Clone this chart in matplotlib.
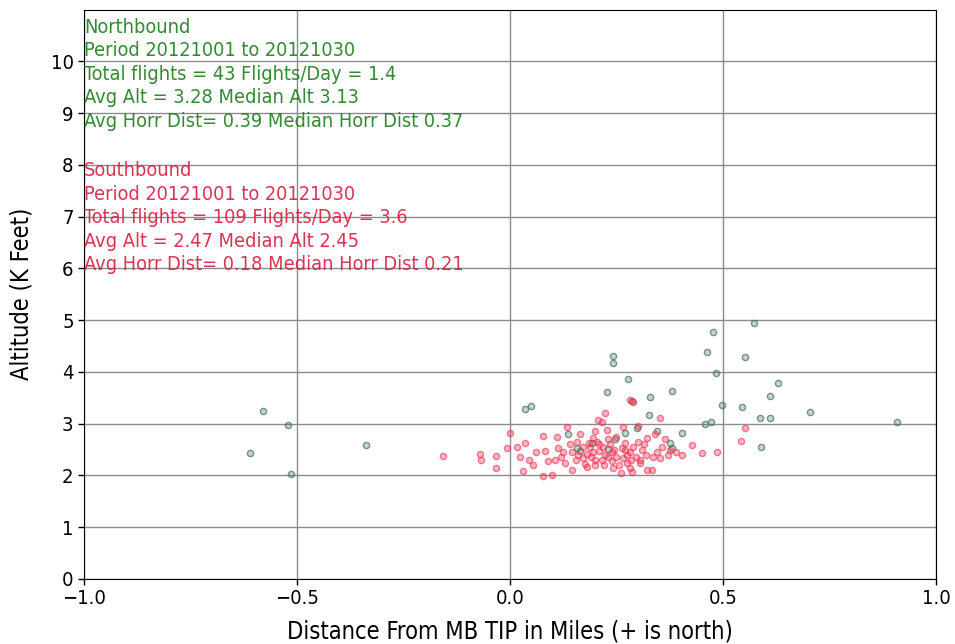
import matplotlib
matplotlib.use("Agg")
import matplotlib.pyplot as plt

# Northbound flights: distance from MB TIP (miles) and altitude (K feet)
north_dist = [-0.610, -0.580, -0.521, -0.514, -0.338, 0.035, 0.049, 0.136, 0.157,
              0.242, 0.242, 0.277, 0.228, 0.286, 0.329, 0.380, 0.476, 0.463, 0.483,
              0.497, 0.458, 0.472, 0.552, 0.573, 0.545, 0.630, 0.610, 0.587, 0.610,
              0.589, 0.704, 0.908, 0.327, 0.270, 0.246, 0.298, 0.345, 0.403, 0.376,
              0.380, 0.192, 0.230, 0.165]
north_alt = [2.43, 3.24, 2.97, 2.03, 2.59, 3.28, 3.34, 2.80, 2.53,
             4.30, 4.17, 3.86, 3.61, 3.44, 3.51, 3.63, 4.77, 4.38, 3.98,
             3.36, 3.00, 3.03, 4.28, 4.94, 3.32, 3.78, 3.53, 3.11, 3.11,
             2.55, 3.22, 3.03, 3.17, 2.82, 2.70, 2.91, 2.86, 2.82, 2.63,
             2.53, 2.63, 2.52, 2.48]

# Southbound flights
south_dist = [-0.157, -0.070, -0.068, -0.033, -0.033, 0.000, -0.008, 0.016, 0.035, 0.023,
              0.030, 0.054, 0.078, 0.082, 0.089, 0.077, 0.099, 0.110, 0.112, 0.134,
              0.120, 0.146, 0.171, 0.181, 0.200, 0.188, 0.207, 0.171, 0.195, 0.289,
              0.282, 0.223, 0.216, 0.352, 0.228, 0.204, 0.195, 0.218, 0.230, 0.200,
              0.242, 0.263, 0.265, 0.282, 0.282, 0.300, 0.310, 0.305, 0.286, 0.322,
              0.336, 0.352, 0.333, 0.357, 0.371, 0.376, 0.403, 0.427, 0.451, 0.486,
              0.552, 0.542, 0.223, 0.322, 0.305, 0.146, 0.157, 0.160, 0.175, 0.185,
              0.210, 0.215, 0.235, 0.240, 0.250, 0.255, 0.270, 0.275, 0.290, 0.295,
              0.260, 0.250, 0.230, 0.200, 0.165, 0.140, 0.130, 0.105, 0.060, 0.045,
              0.315, 0.340, 0.365, 0.390, 0.265, 0.180, 0.190, 0.220, 0.240, 0.270,
              0.285, 0.320, 0.345, 0.155, 0.125, 0.300, 0.245, 0.210, 0.275]
south_alt = [2.37, 2.41, 2.30, 2.37, 2.14, 2.82, 2.53, 2.55, 2.63, 2.36,
             2.09, 2.20, 2.76, 2.47, 2.28, 1.98, 2.00, 2.74, 2.53, 2.93,
             2.36, 2.11, 2.34, 2.16, 2.30, 2.55, 3.07, 2.55, 2.73, 3.42,
             3.46, 3.20, 3.03, 3.11, 2.88, 2.65, 2.45, 2.55, 2.36, 2.20,
             2.14, 2.53, 2.33, 2.14, 2.45, 2.65, 2.49, 2.30, 2.07, 2.72,
             2.36, 2.33, 2.10, 2.55, 2.39, 2.50, 2.39, 2.59, 2.43, 2.45,
             2.91, 2.67, 2.39, 2.10, 2.24, 2.45, 2.65, 2.40, 2.22, 2.62,
             2.48, 2.30, 2.60, 2.45, 2.35, 2.20, 2.62, 2.40, 2.55, 2.35,
             2.05, 2.75, 2.70, 2.85, 2.80, 2.60, 2.25, 2.30, 2.45, 2.30,
             2.60, 2.80, 2.70, 2.45, 2.93, 2.42, 2.35, 2.20, 2.28, 2.50,
             2.30, 2.40, 2.45, 2.30, 2.45, 2.95, 2.50, 2.60, 2.25]

period = "20121001 to 20121030"
north_lines = ["Northbound",
               f"Period {period}",
               "Total flights = 43 Flights/Day = 1.4",
               "Avg Alt = 3.28 Median Alt 3.13",
               "Avg Horr Dist= 0.39 Median Horr Dist 0.37"]
south_lines = ["Southbound",
               f"Period {period}",
               "Total flights = 109 Flights/Day = 3.6",
               "Avg Alt = 2.47 Median Alt 2.45",
               "Avg Horr Dist= 0.18 Median Horr Dist 0.21"]

font = dict(family="DejaVu Sans", stretch="condensed")

fig = plt.figure(figsize=(9.55, 6.44), dpi=100)
ax = fig.add_axes([0.088, 0.101, 0.892, 0.884])

ax.scatter(north_dist, north_alt, s=20, marker="o",
           facecolors=(0.2, 0.5, 0.3, 0.3), edgecolors=(0.3, 0.42, 0.35, 0.7),
           linewidths=1.0, zorder=3)
ax.scatter(south_dist, south_alt, s=20, marker="o",
           facecolors=(1.0, 0.15, 0.25, 0.35), edgecolors=(0.9, 0.2, 0.35, 0.6),
           linewidths=1.0, zorder=3)

ax.set_xlim(-1.0, 1.0)
ax.set_ylim(0, 11)
ax.set_xticks([-1.0, -0.5, 0.0, 0.5, 1.0])
ax.set_yticks(range(0, 11))
ax.grid(True, color="#8c8c8c", linewidth=1.0)
ax.set_axisbelow(True)

ax.tick_params(labelsize=14.5, length=4, width=1)
for lab in ax.get_xticklabels() + ax.get_yticklabels():
    lab.set_fontstretch("condensed")

ax.set_xlabel("Distance From MB TIP in Miles (+ is north)", fontsize=17, labelpad=8, **font)
ax.set_ylabel("Altitude (K Feet)", fontsize=17, labelpad=12, **font)

ax.text(-1.0, 10.84, "\n".join(north_lines), ha="left", va="top",
        fontsize=14.3, color="#1e7d1e", alpha=0.9, linespacing=1.3, **font)
ax.text(-1.0, 8.07, "\n".join(south_lines), ha="left", va="top",
        fontsize=14.3, color="#d81e40", alpha=0.9, linespacing=1.3, **font)

fig.savefig("out.png", dpi=100)
